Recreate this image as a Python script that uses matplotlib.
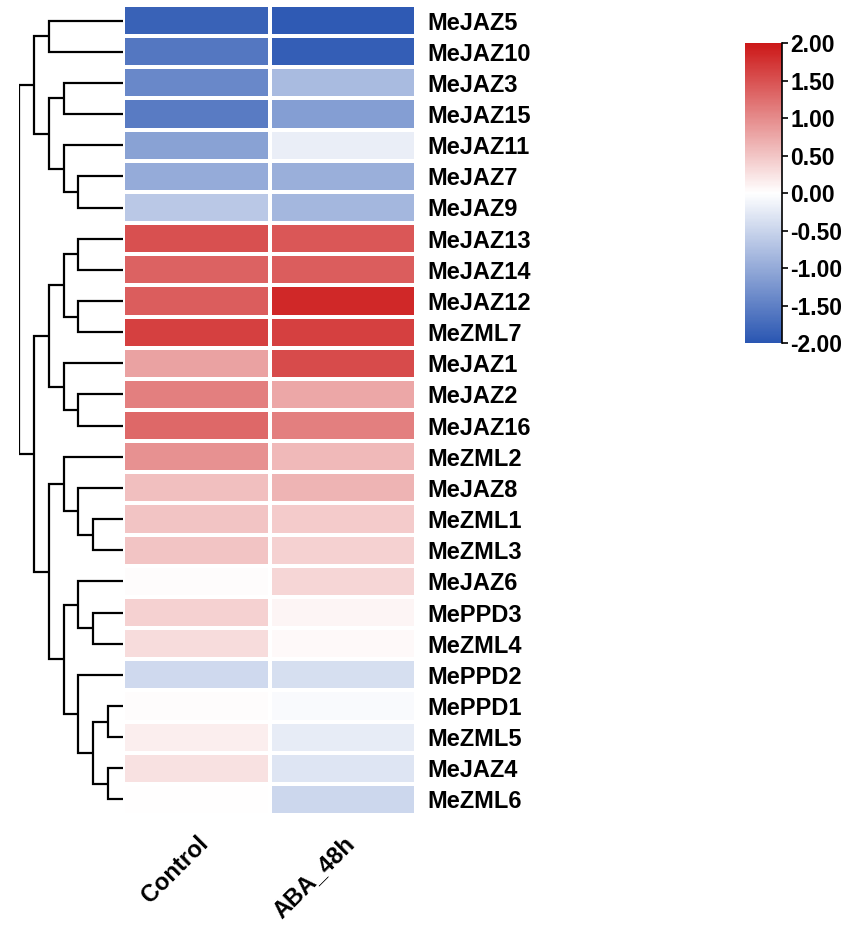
import numpy as np
import matplotlib.pyplot as plt
from matplotlib.colors import LinearSegmentedColormap

plt.rcParams['font.family'] = ['Liberation Sans', 'DejaVu Sans']

# genes, top to bottom
genes = ['MeJAZ5', 'MeJAZ10', 'MeJAZ3', 'MeJAZ15', 'MeJAZ11', 'MeJAZ7', 'MeJAZ9',
         'MeJAZ13', 'MeJAZ14', 'MeJAZ12', 'MeZML7', 'MeJAZ1', 'MeJAZ2', 'MeJAZ16',
         'MeZML2', 'MeJAZ8', 'MeZML1', 'MeZML3', 'MeJAZ6', 'MePPD3', 'MeZML4',
         'MePPD2', 'MePPD1', 'MeZML5', 'MeJAZ4', 'MeZML6']
samples = ['Control', 'ABA_48h']

control = [-1.85, -1.6, -1.4, -1.55, -1.1, -1.0, -0.65,
           1.5, 1.35, 1.4, 1.65, 0.8, 1.1, 1.3,
           0.95, 0.55, 0.5, 0.5, 0.03, 0.4, 0.3,
           -0.45, 0.02, 0.15, 0.25, 0.0]
aba_48h = [-1.95, -1.9, -0.8, -1.15, -0.2, -0.95, -0.85,
           1.45, 1.4, 1.85, 1.65, 1.55, 0.75, 1.1,
           0.6, 0.65, 0.45, 0.4, 0.35, 0.08, 0.05,
           -0.38, -0.05, -0.22, -0.3, -0.48]

# row dendrogram: (height, left, right), leaves are row indices
tree = (7,
        (6, (5, 0, 1),
            (5, (4, 2, 3), (4, 4, (3, 5, 6)))),
        (6, (5, (4, (3, 7, 8), (3, 9, 10)),
                (4, 11, (3, 12, 13))),
            (5, (4, 14, (3, 15, (2, 16, 17))),
                (4, (3, 18, (2, 19, 20)),
                    (3, 21, (2, (1, 22, 23), (1, 24, 25)))))))

cmap = LinearSegmentedColormap.from_list('bwr2', ['#2A56B2', '#FFFFFF', '#CC1818'])

fig = plt.figure(figsize=(8.63, 9.27), dpi=100)

# heatmap
ax = fig.add_axes([123 / 863, 1 - 815 / 927, 293 / 863, 810 / 927])
data = np.array([control, aba_48h]).T
mesh = ax.pcolormesh(data, cmap=cmap, vmin=-2, vmax=2, edgecolors='white', linewidth=1.5)
ax.set_xlim(0, 2)
ax.set_ylim(len(genes), 0)
for s in ax.spines.values():
    s.set_visible(False)
ax.yaxis.tick_right()
ax.set_yticks(np.arange(len(genes)) + 0.5)
ax.set_yticklabels(genes, fontsize=17, fontweight='bold')
ax.set_xticks(np.arange(2) + 0.5)
ax.set_xticklabels(samples, fontsize=17, fontweight='bold', rotation=45,
                   ha='right', va='top', rotation_mode='anchor')
ax.tick_params(axis='y', length=0, pad=8)
ax.tick_params(axis='x', length=0, pad=12)


# dendrogram
def draw(node, dax):
    # returns (y, height) of node
    if isinstance(node, int):
        return node + 0.5, 0
    h, left, right = node
    yl, hl = draw(left, dax)
    yr, hr = draw(right, dax)
    dax.plot([hl, h, h, hr], [yl, yl, yr, yr], color='black', lw=1.6,
             solid_capstyle='butt', solid_joinstyle='miter')
    return (yl + yr) / 2, h


dax = fig.add_axes([19 / 863, 1 - 815 / 927, 104 / 863, 810 / 927])
draw(tree, dax)
dax.set_xlim(7, 0)
dax.set_ylim(len(genes), 0)
dax.axis('off')

# colorbar
cax = fig.add_axes([745 / 863, 1 - 343 / 927, 37 / 863, 300 / 927])
cb = fig.colorbar(mesh, cax=cax, ticks=np.arange(-2, 2.01, 0.5), format='%.2f')
cb.outline.set_visible(False)
cax.spines['right'].set_visible(True)
cax.spines['right'].set_linewidth(1.2)
cax.tick_params(length=4, width=1.2, labelsize=16.5, pad=2)
for t in cax.get_yticklabels():
    t.set_fontweight('bold')

plt.savefig('out.png', dpi=100)
